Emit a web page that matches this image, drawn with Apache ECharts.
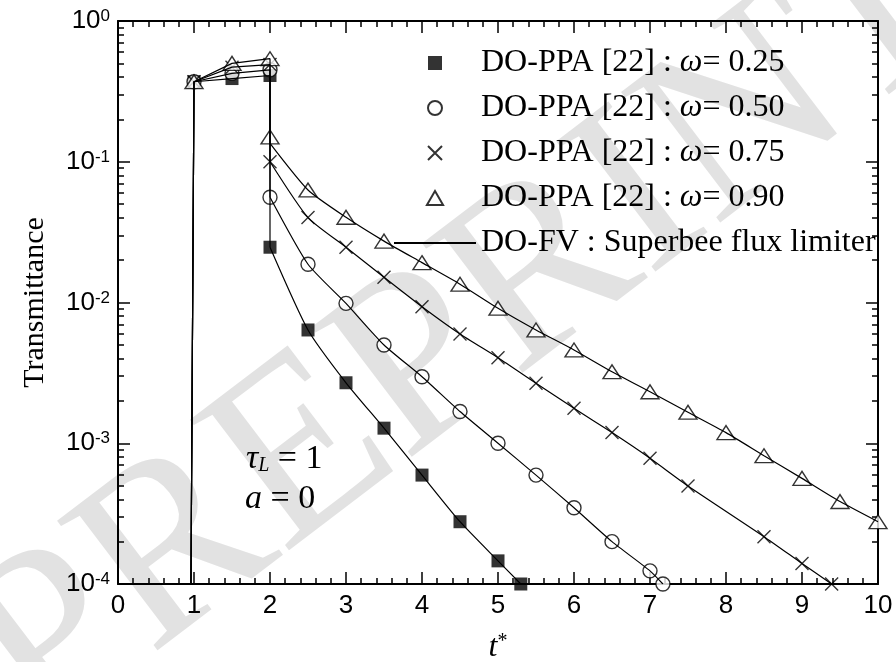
<!DOCTYPE html>
<html>
<head>
<meta charset="utf-8">
<script src="https://cdn.jsdelivr.net/npm/echarts@6/dist/echarts.min.js"></script>
<style>
  html, body { margin: 0; padding: 0; background: #fff; }
  #chart { width: 896px; height: 662px; }
</style>
</head>
<body>
<div id="chart"></div>
<script>
// DO-PPA [22] markers
const sqT = [1, 1.5, 2, 2, 2.5, 3, 3.5, 4, 4.5, 5, 5.3]
const sqV = [0.37, 0.39, 0.41, 0.0247, 0.00638, 0.00269, 0.00128, 0.000594, 0.000277, 0.000146, 0.0001]

const ciT = [1, 1.5, 2, 2, 2.5, 3, 3.5, 4, 4.5, 5, 5.5, 6, 6.5, 7, 7.17]
const ciV = [0.37, 0.425, 0.45, 0.0559, 0.0187, 0.00986, 0.00499, 0.00297, 0.00168, 0.001, 0.000594, 0.000348, 0.0002, 0.000124, 0.0001]

const crT = [1, 1.5, 2, 2, 2.5, 3, 3.5, 4, 4.5, 5, 5.5, 6, 6.5, 7, 7.5, 8.5, 9, 9.39]
const crV = [0.37, 0.47, 0.49, 0.1, 0.0401, 0.0247, 0.0151, 0.00933, 0.00597, 0.00405, 0.00267, 0.00177, 0.00119, 0.000782, 0.000497, 0.000217, 0.00014, 0.0001]

const trT = [1, 1.5, 2, 2, 2.5, 3, 3.5, 4, 4.5, 5, 5.5, 6, 6.5, 7, 7.5, 8, 8.5, 9, 9.5, 10]
const trV = [0.37, 0.5, 0.54, 0.15, 0.063, 0.0403, 0.0273, 0.0192, 0.0135, 0.0091, 0.00638, 0.0046, 0.00322, 0.00232, 0.00166, 0.00119, 0.000816, 0.000563, 0.000385, 0.000277]

// DO-FV curves follow the markers; these are the spots where they leave them
const fvStart = [0.96, 0.0001]
const fvTrJump = 0.135

const names = [
  'DO-PPA [22] : ω= 0.25',
  'DO-PPA [22] : ω= 0.50',
  'DO-PPA [22] : ω= 0.75',
  'DO-PPA [22] : ω= 0.90'
]
const fvName = 'DO-FV : Superbee flux limiter'

// log minor ticks 2..9 in every decade
const yMinor = [
  2e-4, 3e-4, 4e-4, 5e-4, 6e-4, 7e-4, 8e-4, 9e-4,
  2e-3, 3e-3, 4e-3, 5e-3, 6e-3, 7e-3, 8e-3, 9e-3,
  2e-2, 3e-2, 4e-2, 5e-2, 6e-2, 7e-2, 8e-2, 9e-2,
  0.2, 0.3, 0.4, 0.5, 0.6, 0.7, 0.8, 0.9
]

const black = '#000'
const serif = "'Liberation Serif', 'Times New Roman', serif"
const sans = "'Liberation Sans', Arial, sans-serif"
const tickLine = { color: black, width: 1.5 }

const pairs = (t, v) => t.map((x, i) => [x, v[i]])
const markerData = [pairs(sqT, sqV), pairs(ciT, ciV), pairs(crT, crV), pairs(trT, trV)]

// path symbols keep their aspect in the legend too
const markerStyles = [
  { symbol: 'path://M0,0H10V10H0Z', symbolSize: 13, itemStyle: { color: black, borderColor: black, borderWidth: 0 } },
  { symbol: 'circle', symbolSize: 14, itemStyle: { color: '#fff', borderColor: black, borderWidth: 1.4 } },
  { symbol: 'path://M0,0L10,10M0,10L10,0', symbolSize: 13, itemStyle: { color: 'transparent', borderColor: black, borderWidth: 1.4 } },
  { symbol: 'path://M5,0L10,8.66L0,8.66Z', symbolSize: [18, 16], itemStyle: { color: '#fff', borderColor: black, borderWidth: 1.4 } }
]

function xAxisBase(pos, showLabel) {
  return {
    type: 'value', position: pos, min: 0, max: 10, interval: 1,
    axisLine: { show: true, onZero: false, lineStyle: { color: black, width: 2 } },
    axisTick: { show: true, inside: true, length: 12, lineStyle: tickLine },
    minorTick: { show: true, splitNumber: 5, length: 6, lineStyle: tickLine },
    splitLine: { show: false },
    axisLabel: { show: showLabel, color: black, fontFamily: sans, fontSize: 26, margin: 9 }
  }
}

function yAxisBase(pos, major) {
  return {
    type: 'log', logBase: 10, position: pos, min: 1e-4, max: 1,
    axisLine: { show: major, onZero: false, lineStyle: { color: black, width: 2 } },
    axisTick: major
      ? { show: true, inside: true, length: 12, lineStyle: tickLine }
      : { show: true, inside: true, length: 6, lineStyle: tickLine, customValues: yMinor },
    splitLine: { show: false },
    axisLabel: { show: false }
  }
}

const xa = [xAxisBase('bottom', true), xAxisBase('top', false)]
xa[0].name = '{t|t}{s|*}'
xa[0].nameLocation = 'middle'
xa[0].nameGap = 48
xa[0].nameTextStyle = {
  rich: {
    t: { fontFamily: serif, fontStyle: 'italic', fontSize: 32, color: black },
    s: { fontFamily: serif, fontSize: 20, color: black, verticalAlign: 'top', lineHeight: 12 }
  }
}

const ya = [yAxisBase('left', true), yAxisBase('left', false), yAxisBase('right', true), yAxisBase('right', false)]
ya[0].axisLabel = {
  show: true,
  color: black,
  formatter: (v) => '{b|10}{s|' + Math.round(Math.log10(v)) + '}',
  rich: {
    b: { fontFamily: sans, fontSize: 26, color: black },
    s: { fontFamily: sans, fontSize: 17, color: black, verticalAlign: 'top', lineHeight: 12 }
  }
}
ya[0].name = 'Transmittance'
ya[0].nameLocation = 'middle'
ya[0].nameGap = 68
ya[0].nameTextStyle = { fontFamily: serif, fontSize: 30, color: black }

const series = []
markerData.forEach((d, k) => {
  const pts = d.map((p) => p.slice())
  if (k === 3) pts[3][1] = fvTrJump
  const line = { name: fvName, type: 'line', symbol: 'none', silent: true, lineStyle: { color: black, width: 1.2 }, itemStyle: { color: black } }
  series.push(Object.assign({}, line, { data: [fvStart].concat(pts.slice(0, 4)) }))
  series.push(Object.assign({}, line, { data: pts.slice(3), smooth: 0.2 }))
})
markerData.forEach((d, k) => {
  series.push(Object.assign({ name: names[k], type: 'scatter', data: d, clip: false, silent: true, symbolKeepAspect: true }, markerStyles[k]))
})

const option = {
  animation: false,
  backgroundColor: '#fff',
  // keep the plot box fixed; v6 would otherwise shrink it to fit the axis names
  grid: { left: 118, right: 18, top: 21, bottom: 78, outerBoundsMode: 'none' },
  xAxis: xa,
  yAxis: ya,
  legend: {
    orient: 'vertical',
    left: 388,
    top: 42,
    itemWidth: 82,
    itemHeight: 14,
    itemGap: 13,
    selectedMode: false,
    symbolKeepAspect: true,
    data: names.concat([{ name: fvName, itemStyle: { opacity: 0 } }]),
    formatter: (n) => n.replace('ω', '{w|ω}'),
    textStyle: {
      fontFamily: serif,
      fontSize: 32,
      lineHeight: 30,
      color: black,
      rich: { w: { fontFamily: serif, fontStyle: 'italic', fontSize: 32, color: black } }
    }
  },
  graphic: [
    {
      type: 'text', z: -10, silent: true, x: 470, y: 330, rotation: 0.65,
      style: { text: 'PREPRINT', font: '250px ' + serif, fill: '#e2e2e2', align: 'center', verticalAlign: 'middle' }
    },
    {
      type: 'text', left: 246, top: 442,
      style: {
        text: '{i|τ}{l|L}{n| = 1}',
        rich: {
          i: { fontFamily: serif, fontStyle: 'italic', fontSize: 34, fill: black },
          l: { fontFamily: serif, fontStyle: 'italic', fontSize: 20, fill: black, verticalAlign: 'bottom', lineHeight: 12 },
          n: { fontFamily: serif, fontSize: 34, fill: black }
        }
      }
    },
    {
      type: 'text', left: 245, top: 482,
      style: {
        text: '{i|a}{n| = 0}',
        rich: {
          i: { fontFamily: serif, fontStyle: 'italic', fontSize: 34, fill: black },
          n: { fontFamily: serif, fontSize: 34, fill: black }
        }
      }
    }
  ],
  series
}

echarts.init(document.getElementById('chart')).setOption(option)
</script>
</body>
</html>
